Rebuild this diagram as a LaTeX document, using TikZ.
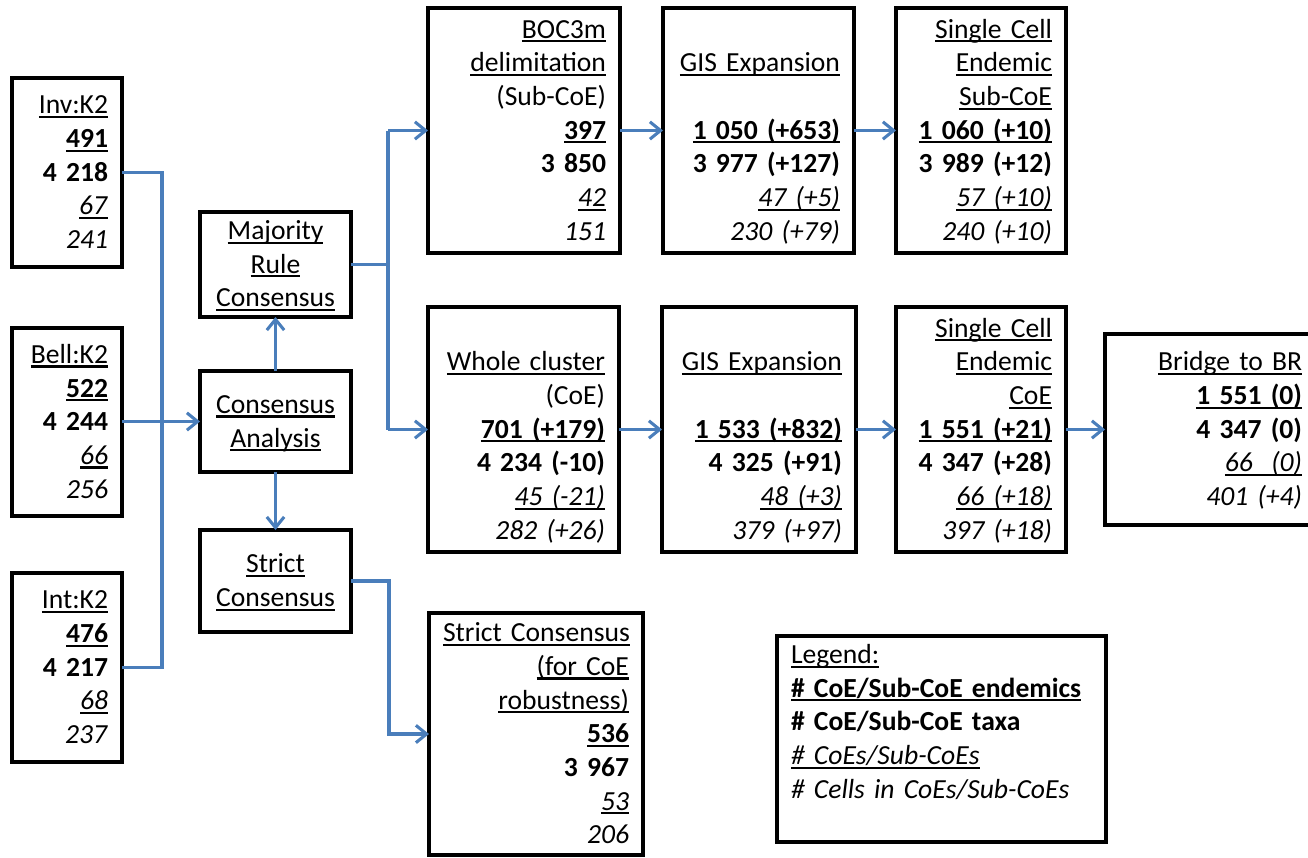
\documentclass[tikz,border=0pt]{standalone}
\usepackage{fontspec}
\setmainfont{Carlito}
\usetikzlibrary{arrows.meta,calc}
\definecolor{conblue}{RGB}{74,126,187}
\newcommand\U[1]{\setbox0\hbox{#1}\leavevmode\rlap{\rule[-0.15em]{\wd0}{0.075em}}\box0}
\newcommand\B[1]{\textbf{#1}}
\newcommand\I[1]{\textit{#1}}
\newcommand\topstrut{\rule{0pt}{\dimexpr0.7\baselineskip+3pt\relax}}
\newcommand\mybox[7]{%
  \pgfmathsetmacro\tw{(#4-#2-28)*0.75}%
  \pgfmathsetmacro\bw{(#4-#2)*0.75}%
  \pgfmathsetmacro\bh{(#5-#3)*0.75}%
  \node[box, align=#6, minimum width=\bw pt, minimum height=\bh pt, text width=\tw pt]
    (#1) at ({(#2+#4)/2},{(#3+#5)/2}) {\topstrut#7\strut};}
\tikzset{
  box/.style={draw=black, line width=2.6pt, inner sep=0pt, outer sep=0pt,
    font=\fontsize{20.7}{25.25}\selectfont},
  conn/.style={draw=conblue, line width=2.3pt},
  arr/.style={conn, -{Straight Barb[length=8pt,width=13pt]}}
}
\begin{document}
\begin{tikzpicture}[x=0.75pt,y=-0.75pt]
\useasboundingbox (0,0) rectangle (1308,857);
% input boxes
\mybox{inv}{12}{78}{122}{267}{right}{\U{Inv:K2}\\\U{\B{491}}\\\B{4 218}\\\U{\I{67}}\\\I{241}}
\mybox{bell}{12}{328}{122}{516}{right}{\U{Bell:K2}\\\U{\B{522}}\\\B{4 244}\\\U{\I{66}}\\\I{256}}
\mybox{int}{12}{573}{122}{762}{right}{\U{Int:K2}\\\U{\B{476}}\\\B{4 217}\\\U{\I{68}}\\\I{237}}
% consensus boxes
\mybox{mrc}{200}{212}{351}{317}{center}{\U{Majority}\\\U{Rule}\\\U{Consensus}}
\mybox{ca}{200}{371}{351}{472}{center}{\U{Consensus}\\\U{Analysis}}
\mybox{strict}{200}{530}{351}{632}{center}{\U{Strict}\\\U{Consensus}}
% top row
\mybox{boc}{428}{8}{620}{253}{right}{\U{BOC3m}\\\U{delimitation}\\(Sub-CoE)\\\U{\B{397}}\\\B{3 850}\\\U{\I{42}}\\\I{151}}
\mybox{gisa}{663}{8}{854}{253}{right}{\mbox{}\\\U{GIS Expansion}\\\mbox{}\\\U{\B{1 050 (+653)}}\\\B{3 977 (+127)}\\\U{\I{47 (+5)}}\\\I{230 (+79)}}
\mybox{sca}{896}{8}{1066}{253}{right}{\U{Single Cell}\\\U{Endemic}\\\U{Sub-CoE}\\\U{\B{1 060 (+10)}}\\\B{3 989 (+12)}\\\U{\I{57 (+10)}}\\\I{240 (+10)}}
% middle row
\mybox{whole}{428}{307}{619}{552}{right}{\mbox{}\\\U{Whole cluster}\\(CoE)\\\U{\B{701 (+179)}}\\\B{4 234 (-10)}\\\U{\I{45 (-21)}}\\\I{282 (+26)}}
\mybox{gisb}{662}{307}{856}{552}{right}{\mbox{}\\\U{GIS Expansion}\\\mbox{}\\\U{\B{1 533 (+832)}}\\\B{4 325 (+91)}\\\U{\I{48 (+3)}}\\\I{379 (+97)}}
\mybox{scb}{896}{307}{1066}{552}{right}{\U{Single Cell}\\\U{Endemic}\\\U{CoE}\\\U{\B{1 551 (+21)}}\\\B{4 347 (+28)}\\\U{\I{66 (+18)}}\\\I{397 (+18)}}
\mybox{bridge}{1105}{334}{1316}{525}{right}{\U{Bridge to BR}\\\U{\B{1 551 (0)}}\\\B{4 347 (0)}\\\U{\I{66\ \ (0)}}\\\I{401 (+4)}}
% strict consensus result
\mybox{scoe}{429}{613}{643}{855}{right}{\U{Strict Consensus}\\\U{(for CoE}\\\U{robustness)}\\\U{\B{536}}\\\B{3 967}\\\U{\I{53}}\\\I{206}}
% legend
\mybox{legend}{777}{639}{1106}{839}{left}{\U{Legend:}\\\U{\B{\# CoE/Sub-CoE endemics}}\\\B{\# CoE/Sub-CoE taxa}\\\U{\I{\# CoEs/Sub-CoEs}}\\\I{\# Cells in CoEs/Sub-CoEs}\\\mbox{}}
% connectors
\coordinate (busa) at (162,0);
\coordinate (busb) at (388,0);
\coordinate (busc) at (389,0);
\draw[conn] (inv.east) -| (busa |- int.east) -- (int.east);
\draw[arr] (bell.east |- ca.west) -- (ca.west);
\draw[arr] (ca.north) -- (mrc.south);
\draw[arr] (ca.south) -- (strict.north);
\draw[conn] (mrc.east) -- (busb |- mrc.east);
\draw[conn] (busb |- boc.west) -- (busb |- whole.west);
\draw[arr] (busb |- boc.west) -- (boc.west);
\draw[arr] (busb |- whole.west) -- (whole.west);
\draw[arr] (strict.east) -| (busc |- scoe.west) -- (scoe.west);
\draw[arr] (boc.east) -- (gisa.west);
\draw[arr] (gisa.east) -- (sca.west);
\draw[arr] (whole.east) -- (gisb.west);
\draw[arr] (gisb.east) -- (scb.west);
\draw[arr] (scb.east) -- (bridge.west);
\end{tikzpicture}
\end{document}
